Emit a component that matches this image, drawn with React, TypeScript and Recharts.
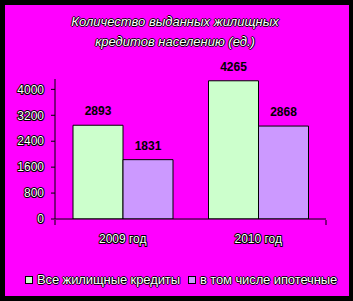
import React from 'react';
import { BarChart, Bar, XAxis, YAxis, Legend, LabelList } from 'recharts';

const categories = ['2009 год', '2010 год'];
const allLoans = [2893, 4265];
const mortgage = [1831, 2868];
const yTicks = [0, 800, 1600, 2400, 3200, 4000];
const seriesNames = ['Все жилищные кредиты', 'в том числе ипотечные'];
const titleLines = ['Количество выданных жилищных', 'кредитов населению (ед.)'];

const data = categories.map((c, i) => ({ category: c, all: allLoans[i], mort: mortgage[i] }));

const FONT = '"Liberation Sans", Arial, sans-serif';
const outlineShadow = '1px 0 0 #000, -1px 0 0 #000, 0 1px 0 #000, 0 -1px 0 #000';

const YTick = (props: any) => {
  const { x, y, payload } = props;
  return (
    <text x={x} y={y} dy="0.355em" textAnchor="end" fontFamily={FONT} fontSize={12}
      fill="#fff" stroke="#000" strokeWidth={2} style={{ paintOrder: 'stroke' }} strokeLinejoin="round">
      {payload.value}
    </text>
  );
};

const XTick = (props: any) => {
  const { x, y, payload } = props;
  return (
    <text x={x} y={y} dy="0.71em" textAnchor="middle" fontFamily={FONT} fontSize={12}
      fill="#fff" stroke="#000" strokeWidth={2} style={{ paintOrder: 'stroke' }} strokeLinejoin="round">
      {payload.value}
    </text>
  );
};

const EmptyTick = () => <g />;

const renderLegend = (props: any) => {
  const payload = props.payload || [];
  return (
    <div style={{ display: 'flex', alignItems: 'center', fontFamily: FONT, fontSize: 13, color: '#fff', textShadow: outlineShadow, whiteSpace: 'nowrap' }}>
      {payload.map((p: any, i: number) => (
        <div key={i} style={{ display: 'flex', alignItems: 'center', marginLeft: i === 0 ? 25 : 8 }}>
          <span style={{ display: 'inline-block', width: 6, height: 6, background: p.color, border: '1px solid #000', marginRight: 4 }} />
          <span style={{ letterSpacing: '-0.1px' }}>{p.value}</span>
        </div>
      ))}
    </div>
  );
};

export default function App() {
  return (
    <div style={{ position: 'absolute', left: 0, top: 0, width: 353, height: 301, background: '#000' }}>
      <div style={{ position: 'absolute', left: 5, top: 5, width: 344, height: 291, background: '#FF00FF' }} />
      <div style={{ position: 'absolute', left: 0, top: 12, width: 350, textAlign: 'center', fontFamily: FONT, fontSize: 13, fontStyle: 'italic', lineHeight: '20px', color: '#fff', textShadow: outlineShadow }}>
        {titleLines.map((t, i) => <div key={i}>{t}</div>)}
      </div>
      <div style={{ position: 'absolute', left: 0, top: 0 }}>
        <BarChart width={353} height={301} data={data} barGap={0}
          margin={{ top: 79, right: 27, bottom: 80, left: 0 }}>
          <XAxis dataKey="category" height={1} axisLine={{ stroke: '#000' }} tickLine={false}
            tickSize={0} tickMargin={15} tick={<XTick />} interval={0} />
          <XAxis xAxisId="grid" type="number" domain={[0, 2]} ticks={[0, 1, 2]} height={1}
            axisLine={false} tickLine={{ stroke: '#000' }} tickSize={5} tick={<EmptyTick />} allowDataOverflow />
          <YAxis width={55} domain={[0, 4320]} ticks={yTicks} allowDataOverflow interval={0}
            axisLine={{ stroke: '#000' }} tickLine={{ stroke: '#000' }} tickSize={4} tickMargin={7} tick={<YTick />} />
          <Legend layout="horizontal" verticalAlign="middle" align="center" content={renderLegend}
            wrapperStyle={{ position: 'absolute', left: 0, top: 272, width: 353, height: 16 }} />
          <Bar dataKey="all" name={seriesNames[0]} fill="#CCFFCC" stroke="#000" strokeWidth={1} barSize={50} isAnimationActive={false}>
            <LabelList dataKey="all" position="top" offset={10} fill="#000" fontWeight="bold" fontSize={12} fontFamily={FONT} />
          </Bar>
          <Bar dataKey="mort" name={seriesNames[1]} fill="#CC99FF" stroke="#000" strokeWidth={1} barSize={50} isAnimationActive={false}>
            <LabelList dataKey="mort" position="top" offset={10} fill="#000" fontWeight="bold" fontSize={12} fontFamily={FONT} />
          </Bar>
        </BarChart>
      </div>
    </div>
  );
}
